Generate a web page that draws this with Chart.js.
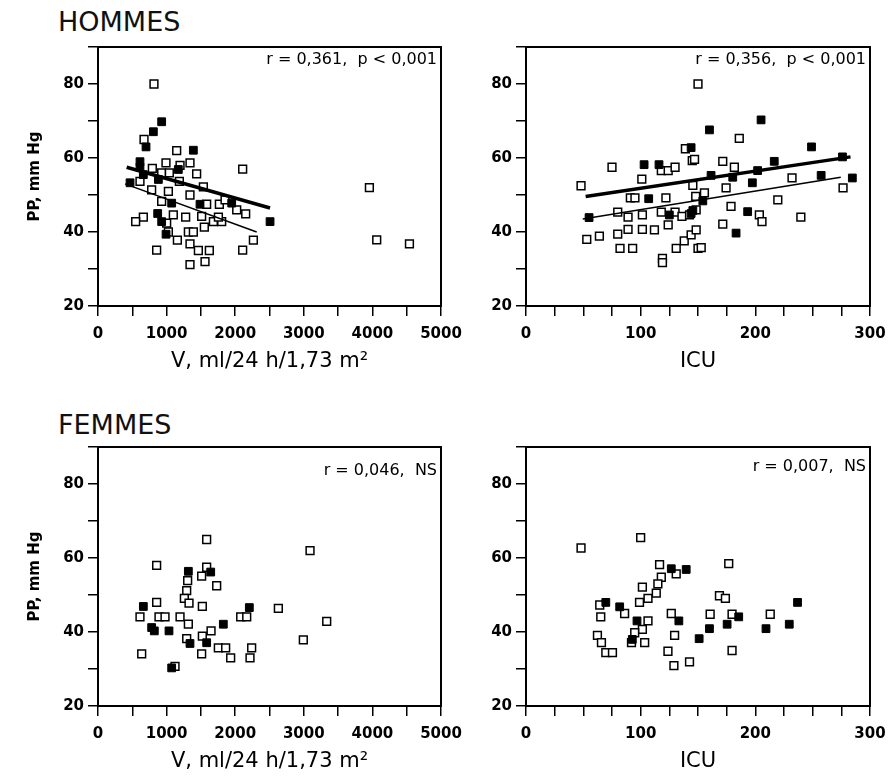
<!DOCTYPE html>
<html>
<head>
<meta charset="utf-8">
<script src="https://cdn.jsdelivr.net/npm/chart.js@4.4.1/dist/chart.umd.min.js"></script>
<style>
body { margin: 0; background: #fff; }
#page { position: relative; width: 888px; height: 782px; overflow: hidden; background: #fff; }
.panel { position: absolute; }
.group { position: absolute; left: 58px; font: 27px "DejaVu Sans"; line-height: 27px; color: #111; }
</style>
</head>
<body>
<div id="page">
  <div class="group" style="top:8px">HOMMES</div>
  <div class="group" style="top:411px">FEMMES</div>
  <canvas id="hv" class="panel" width="470" height="340" style="left:0;top:40px"></canvas>
  <canvas id="hi" class="panel" width="418" height="340" style="left:470px;top:40px"></canvas>
  <canvas id="fv" class="panel" width="470" height="340" style="left:0;top:440px"></canvas>
  <canvas id="fi" class="panel" width="418" height="340" style="left:470px;top:440px"></canvas>
</div>
<script>
// HOMMES - PP vs V
let hvOpenX = [816, 671, 1147, 1341, 991, 1196, 792, 928, 1040, 1438, 2109, 612, 1186, 1536, 1341, 782, 928, 1026, 1584, 1769, 1852, 2022, 2153, 661, 549, 1098, 1278, 1511, 1682, 1803, 1755, 1001, 1550, 1317, 1390, 1026, 1157, 1341, 2265, 855, 1463, 1623, 2109, 1341, 1560, 3956, 4063, 4540];
let hvOpenY = [80, 65, 62, 58.7, 58.7, 58, 57.2, 56, 56, 55.7, 57, 53.7, 53.7, 52.2, 50, 51.4, 48.3, 51, 47.5, 47.5, 48.7, 46, 44.9, 44, 42.8, 44.6, 44, 44.2, 42.8, 42.8, 44, 42.4, 41.3, 40, 40, 40, 37.8, 36.8, 37.8, 35.1, 35, 35, 35.1, 31.2, 32, 52, 37.9, 36.8];
let hvFullX = [928, 807, 700, 1390, 612, 612, 467, 661, 880, 1171, 1487, 1949, 2508, 870, 992, 928, 1074];
let hvFullY = [69.8, 67.1, 63, 62.1, 59, 57.5, 53.3, 55.5, 54.2, 56.9, 47.5, 47.8, 42.8, 45, 39.4, 42.8, 47.8];
let hvThickX = [418, 2508], hvThickY = [57.5, 46.5];
let hvThinX = [394, 2313], hvThinY = [53, 40];

// HOMMES - PP vs ICU
let hiOpenX = [150, 75, 48, 101, 139, 145, 118, 124, 130, 145.5, 91, 95, 122, 148, 80, 89, 101.5, 118, 130, 136, 142.6, 148.4, 53, 64, 80, 89, 101.5, 112, 82, 93, 124, 119, 119, 131, 138, 144, 148.4, 150, 186, 171.6, 181.7, 174.5, 232, 219.6, 276.5, 239.7, 203.5, 205.8, 178.8, 171.6, 152.8, 155.6, 147];
let hiOpenY = [80, 57.5, 52.5, 54.3, 62.5, 59.3, 56.6, 56.6, 57.5, 52.6, 49.2, 49.2, 49.2, 49.6, 45.4, 44, 44.6, 45.4, 45.4, 44.2, 44.6, 46, 38, 38.9, 39.4, 40.7, 40.7, 40.6, 35.6, 35.6, 41.9, 32.9, 31.7, 35.6, 37.6, 39.2, 40.6, 35.6, 65.3, 59.1, 57.5, 51.9, 54.6, 48.7, 51.9, 44, 44.6, 42.8, 46.9, 42.1, 35.8, 50.6, 59.6];
let hiFullX = [103, 116, 107, 55, 125, 145.5, 205, 160, 249, 276, 284.6, 257.4, 216.5, 202, 180.3, 197.4, 161.4, 193.3, 183.2, 154.2, 144, 144];
let hiFullY = [58.2, 58.2, 49, 43.9, 44.6, 45.8, 70.3, 67.6, 63, 60.3, 54.6, 55.3, 59.1, 56.6, 54.8, 53.3, 55.3, 45.5, 39.7, 48.4, 45, 62.8];
let hiThickX = [52, 283], hiThickY = [49.6, 60.3];
let hiThinX = [49.5, 274.5], hiThinY = [43.5, 54.8];

// FEMMES - PP vs V
let fvOpenX = [1584, 855, 1584, 1730, 1511, 1307, 1293, 1259, 1327, 1521, 855, 612, 889, 977, 1196, 1317, 2080, 2168, 2629, 1648, 1521, 1293, 1511, 1754, 1861, 1934, 2240, 2216, 637, 1123, 3091, 3334, 2993];
let fvOpenY = [65, 58, 57.5, 52.5, 55.1, 53.9, 51.2, 49.1, 47.8, 46.9, 48, 44.1, 44.1, 44.1, 44.1, 42.1, 44.1, 44.1, 46.4, 40.3, 38.9, 38.2, 34.1, 35.7, 35.7, 33, 35.7, 33, 34.1, 30.7, 62, 42.9, 37.9];
let fvFullX = [1317, 1643, 661, 2206, 782, 821, 1035, 1827, 1341, 1584, 1074];
let fvFullY = [56.4, 56.2, 46.9, 46.6, 41.2, 40.3, 40.3, 42.1, 36.9, 37.1, 30.3];

// FEMMES - PP vs ICU
let fiOpenX = [48, 100, 116.5, 131, 118, 115, 101.5, 113.6, 106.4, 99, 64.3, 65.2, 86, 126.7, 106.4, 101.5, 94.8, 129.6, 62.3, 65.8, 69.6, 75.4, 92, 103.5, 123.8, 129, 142.6, 176.8, 168.7, 173.9, 160.6, 179.7, 213, 179.7];
let fiOpenY = [62.7, 65.5, 58.2, 55.7, 54.8, 53, 52.1, 50.5, 49.1, 48, 47.3, 44.1, 45, 45, 43, 40.7, 39.8, 39.1, 39.1, 37.1, 34.4, 34.4, 37.1, 37.1, 34.8, 30.9, 31.9, 58.5, 49.8, 49.1, 44.8, 44.8, 44.8, 35];
let fiFullX = [69.6, 81.7, 96.8, 133.3, 126.7, 139.7, 92.7, 236.8, 185.5, 175.4, 160, 151, 209.3, 229.6];
let fiFullY = [48, 46.8, 43, 43, 57.1, 56.9, 38, 48, 44.1, 42.1, 40.9, 38.2, 40.9, 42.1];

let vTitle = 'V, ml/24 h/1,73 m\u00b2';
let icuTitle = 'ICU';
let yTitle = 'PP, mm Hg';

Chart.defaults.font.family = '"DejaVu Sans"';
Chart.defaults.color = '#000';

function toPoints(xs, ys) {
    let pts = [];
    for (let i = 0; i < xs.length; i++) {
        pts.push({ x: xs[i], y: ys[i] });
    }
    return pts;
}

// frame round the plot + r / p text in the corner
let framePlugin = {
    id: 'frame',
    afterDraw(chart, args, opts) {
        let ctx = chart.ctx;
        let a = chart.chartArea;
        ctx.save();
        ctx.strokeStyle = '#000';
        ctx.lineWidth = 2;
        ctx.strokeRect(a.left, a.top, a.right - a.left, a.bottom - a.top);
        ctx.fillStyle = '#000';
        ctx.font = '16px "DejaVu Sans"';
        ctx.textAlign = 'right';
        ctx.textBaseline = 'middle';
        ctx.fillText(opts.note, a.right - 4, a.top + opts.noteDy);
        ctx.restore();
    }
};

function makePanel(id, p) {
    let datasets = [];
    if (p.thick) {
        datasets.push({ data: toPoints(p.thick[0], p.thick[1]), showLine: true, borderColor: '#000', borderWidth: 3.5, pointRadius: 0 });
        datasets.push({ data: toPoints(p.thin[0], p.thin[1]), showLine: true, borderColor: '#000', borderWidth: 1.5, pointRadius: 0 });
    }
    datasets.push({ data: toPoints(p.fullX, p.fullY), pointStyle: 'rect', pointRadius: 5.5, backgroundColor: '#000', borderColor: '#000', borderWidth: 1 });
    datasets.push({ data: toPoints(p.openX, p.openY), pointStyle: 'rect', pointRadius: 5.5, backgroundColor: '#fff', borderColor: '#000', borderWidth: 1.5 });

    new Chart(document.getElementById(id), {
        type: 'scatter',
        data: { datasets: datasets },
        options: {
            responsive: false,
            animation: false,
            layout: { padding: { top: p.padTop, right: p.padRight, left: 0, bottom: 0 } },
            plugins: {
                legend: { display: false },
                tooltip: { enabled: false },
                frame: { note: p.note, noteDy: p.noteDy }
            },
            scales: {
                x: {
                    type: 'linear',
                    min: 0,
                    max: p.xMax,
                    ticks: {
                        stepSize: p.xStep,
                        autoSkip: false,
                        maxRotation: 0,
                        padding: 9,
                        font: { size: 15, weight: 'bold' },
                        callback: v => (v % p.xLabelStep === 0 ? v : '')
                    },
                    grid: { drawOnChartArea: false, tickLength: 10, color: '#000', lineWidth: 1.5 },
                    border: { color: '#000', width: 2 },
                    title: { display: true, text: p.xTitle, font: { size: 21 }, padding: { top: 0, bottom: 6 } },
                    // fixed height, and no extra room for the end labels
                    afterFit: s => { s.height = 74; s.paddingLeft = 0; s.paddingRight = 0; }
                },
                y: {
                    min: 20,
                    max: 90,
                    ticks: {
                        stepSize: 10,
                        autoSkip: false,
                        padding: 4,
                        font: { size: 15, weight: 'bold' },
                        callback: v => (v % 20 === 0 && v <= 80 ? v : '')
                    },
                    grid: { drawOnChartArea: false, tickLength: 10, color: '#000', lineWidth: 1.5 },
                    border: { color: '#000', width: 2 },
                    title: { display: p.showYTitle, text: yTitle, font: { size: 15, weight: 'bold' }, padding: { top: 26, bottom: 0 } },
                    afterFit: s => { s.width = p.yWidth; s.paddingTop = 0; s.paddingBottom = 0; }
                }
            }
        },
        plugins: [framePlugin]
    });
}

makePanel('hv', {
    openX: hvOpenX, openY: hvOpenY, fullX: hvFullX, fullY: hvFullY,
    thick: [hvThickX, hvThickY], thin: [hvThinX, hvThinY],
    xMax: 5000, xStep: 500, xLabelStep: 1000, xTitle: vTitle,
    showYTitle: true, yWidth: 98, padTop: 6, padRight: 29,
    note: 'r = 0,361,  p < 0,001', noteDy: 13
});
makePanel('hi', {
    openX: hiOpenX, openY: hiOpenY, fullX: hiFullX, fullY: hiFullY,
    thick: [hiThickX, hiThickY], thin: [hiThinX, hiThinY],
    xMax: 300, xStep: 25, xLabelStep: 100, xTitle: icuTitle,
    showYTitle: false, yWidth: 56, padTop: 6, padRight: 18,
    note: 'r = 0,356,  p < 0,001', noteDy: 13
});
makePanel('fv', {
    openX: fvOpenX, openY: fvOpenY, fullX: fvFullX, fullY: fvFullY,
    xMax: 5000, xStep: 500, xLabelStep: 1000, xTitle: vTitle,
    showYTitle: true, yWidth: 98, padTop: 7, padRight: 29,
    note: 'r = 0,046,  NS', noteDy: 24
});
makePanel('fi', {
    openX: fiOpenX, openY: fiOpenY, fullX: fiFullX, fullY: fiFullY,
    xMax: 300, xStep: 25, xLabelStep: 100, xTitle: icuTitle,
    showYTitle: false, yWidth: 56, padTop: 7, padRight: 18,
    note: 'r = 0,007,  NS', noteDy: 20
});
</script>
</body>
</html>
